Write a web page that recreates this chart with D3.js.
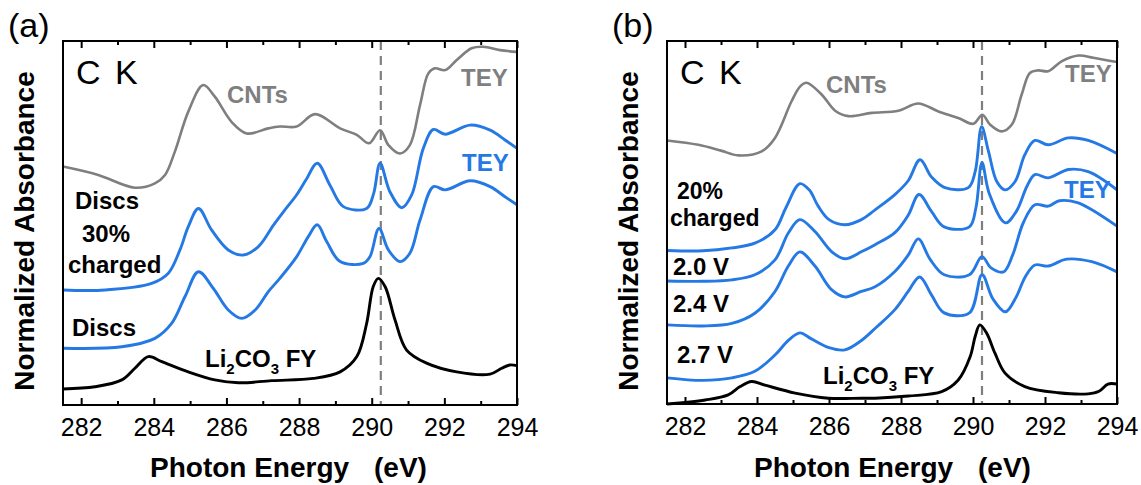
<!DOCTYPE html>
<html>
<head>
<meta charset="utf-8">
<script src="https://cdn.jsdelivr.net/npm/d3@7"></script>
<style>
  body { margin: 0; background: #fff; }
  svg text { font-family: "Liberation Sans", Arial, sans-serif; }
</style>
</head>
<body>
<div class="chart"></div>
<script>
// x axis
const xDomain = [281.5, 294];
const majorTicks = [282, 284, 286, 288, 290, 292, 294];
const minorTicks = [283, 285, 287, 289, 291, 293];
const refEnergy = 290.25; // carbonate peak, dashed line

// panel (a) spectra: [photon energy (eV), offset normalized absorbance]
const cntsA = [[281.5,6.55],[282.47,6.32],[283.48,5.97],[284.03,6.09],[284.31,6.32],[284.58,6.96],[284.95,8.06],[285.36,8.79],[285.68,8.47],[286.14,7.78],[286.56,7.46],[287.15,7.6],[287.47,7.65],[287.93,7.65],[288.44,7.99],[289.13,7.6],[289.59,7.42],[289.93,7.19],[290.23,7.55],[290.46,7.14],[290.78,6.91],[291.05,7.14],[291.33,8.24],[291.56,9.11],[291.74,9.25],[292.02,9.2],[292.34,9.48],[292.75,9.8],[293.07,9.84],[293.53,9.75],[294,9.7]];
const charged30A = [[281.5,3.16],[282.66,3.16],[283.94,3.34],[284.4,3.62],[284.72,4.26],[284.95,4.9],[285.23,5.4],[285.59,4.81],[286.05,4.26],[286.46,4.12],[286.88,4.35],[287.3,4.95],[287.6,5.35],[287.93,5.77],[288.2,6.2],[288.5,6.64],[288.85,6.04],[289.22,5.45],[289.86,5.4],[290.05,5.8],[290.23,6.64],[290.5,5.86],[290.83,5.42],[291.1,5.77],[291.42,7.05],[291.7,7.57],[292.02,7.44],[292.71,7.69],[293.26,7.55],[293.67,7.28],[294,7.05]];
const discsA = [[281.5,1.56],[283.12,1.6],[284.03,1.83],[284.49,2.24],[284.86,2.98],[285.23,3.66],[285.64,3.2],[286.05,2.61],[286.42,2.38],[286.79,2.61],[287.15,3.11],[287.47,3.48],[287.93,4.07],[288.25,4.62],[288.5,4.95],[288.76,4.49],[289.13,3.94],[289.77,3.89],[289.95,4.07],[290.2,4.85],[290.46,4.26],[290.78,3.94],[291.05,4.17],[291.33,5.08],[291.7,6.0],[292.02,5.91],[292.71,6.16],[293.26,6.0],[293.67,5.72],[294,5.5]];
const li2co3A = [[281.5,0.44],[282.38,0.5],[283.12,0.69],[283.48,1.01],[283.85,1.33],[284.22,1.19],[284.95,0.91],[285.68,0.69],[286.33,0.61],[287.25,0.67],[288.39,0.73],[289.13,0.91],[289.59,1.33],[289.86,2.24],[290.04,3.25],[290.18,3.48],[290.37,3.25],[290.64,2.34],[290.96,1.51],[291.51,1.15],[292.34,0.91],[293.26,0.85],[293.58,1.01],[293.8,1.1],[294,1.08]];

// panel (b) spectra
const cntsB = [[281.5,7.26],[282.37,7.14],[283.0,6.98],[283.48,6.85],[284.13,6.96],[284.5,7.33],[284.96,8.34],[285.2,8.75],[285.38,8.85],[285.8,8.52],[286.17,8.08],[286.54,7.93],[287.19,8.02],[287.93,8.08],[288.48,8.28],[289.04,8.06],[289.59,7.88],[290.01,7.72],[290.26,7.97],[290.47,7.7],[290.8,7.51],[291.08,7.7],[291.35,8.52],[291.58,9.12],[291.81,9.19],[292.09,9.17],[292.46,9.44],[292.93,9.6],[293.34,9.54],[294,9.42]];
const charged20B = [[281.5,4.23],[282.5,4.22],[283.3,4.3],[283.94,4.43],[284.5,4.8],[284.8,5.4],[285.19,6.07],[285.45,5.9],[285.7,5.45],[286.0,5.08],[286.44,4.94],[286.9,5.08],[287.28,5.35],[287.83,5.77],[288.2,6.15],[288.53,6.73],[288.85,6.25],[289.22,5.96],[289.87,5.96],[290.06,6.4],[290.24,7.64],[290.43,6.96],[290.66,6.13],[290.89,5.9],[291.17,6.13],[291.44,6.87],[291.72,7.26],[292.09,7.14],[292.65,7.33],[293.2,7.26],[294,6.9]];
const v20B = [[281.5,3.39],[282.5,3.38],[283.3,3.42],[283.94,3.56],[284.5,3.97],[284.87,4.71],[285.19,5.08],[285.61,4.75],[286.07,4.2],[286.44,4.0],[286.91,4.2],[287.28,4.39],[287.83,4.72],[288.2,5.2],[288.5,5.77],[288.85,5.3],[289.2,4.88],[289.9,4.88],[290.08,5.4],[290.25,6.65],[290.45,5.8],[290.9,4.99],[291.2,5.3],[291.5,6.0],[291.72,6.32],[292.09,6.23],[292.65,6.46],[293.2,6.4],[294,5.9]];
const v24B = [[281.5,2.18],[282.5,2.15],[283.3,2.22],[283.94,2.5],[284.5,3.1],[284.87,3.8],[285.19,4.19],[285.61,3.8],[286.07,3.15],[286.44,2.95],[286.9,3.1],[287.28,3.23],[287.83,3.65],[288.2,4.1],[288.48,4.55],[288.8,4.0],[289.2,3.56],[289.9,3.56],[290.25,4.06],[290.5,3.75],[290.85,3.64],[291.1,4.1],[291.4,5.0],[291.72,5.49],[292.09,5.45],[292.4,5.6],[292.9,5.55],[293.3,5.35],[294,4.9]];
const v27B = [[281.5,0.72],[282.5,0.65],[283.3,0.72],[283.94,0.9],[284.5,1.35],[284.87,1.75],[285.19,1.96],[285.5,1.8],[286.0,1.55],[286.44,1.49],[286.9,1.75],[287.3,2.1],[287.83,2.6],[288.2,3.1],[288.52,3.5],[288.85,3.0],[289.2,2.51],[289.9,2.51],[290.25,3.56],[290.55,2.9],[290.9,2.54],[291.2,2.95],[291.45,3.5],[291.72,3.83],[292.09,3.8],[292.6,3.99],[293.3,3.92],[294,3.64]];
const li2co3B = [[281.5,0.0],[282.56,0.11],[283.2,0.25],[283.53,0.48],[283.85,0.62],[284.22,0.52],[285.06,0.3],[285.98,0.16],[286.9,0.16],[287.28,0.16],[288.2,0.22],[289.13,0.34],[289.59,0.66],[289.92,1.3],[290.06,1.86],[290.19,2.18],[290.38,1.95],[290.61,1.4],[290.89,0.85],[291.44,0.48],[292.37,0.31],[293.2,0.28],[293.5,0.35],[293.75,0.55],[294,0.55]];

const grey = '#7f7f7f';
const blue = '#2479e4';

const svg = d3.select('.chart')
  .append('svg')
  .attr('width', 1141)
  .attr('height', 485);

function label(g, txt, x, y, color, size, weight) {
  return g.append('text')
    .attr('x', x)
    .attr('y', y)
    .attr('fill', color || '#000')
    .attr('font-size', size || 24)
    .attr('font-weight', weight || 'bold')
    .text(txt);
}

function li2co3Label(g, x, y) {
  const t = g.append('text')
    .attr('x', x).attr('y', y)
    .attr('font-size', 24).attr('font-weight', 'bold');
  t.append('tspan').text('Li');
  t.append('tspan').attr('dy', 7).attr('font-size', 15).text('2');
  t.append('tspan').attr('dy', -7).text('CO');
  t.append('tspan').attr('dy', 7).attr('font-size', 15).text('3');
  t.append('tspan').attr('dy', -7).text(' FY');
}

function drawPanel(p) {
  const x = d3.scaleLinear().domain(xDomain).range([p.left, p.left + p.width]);
  const y = d3.scaleLinear().domain([0, 10]).range([p.top + p.height, p.top]);
  const g = svg.append('g');

  // dashed reference line
  g.append('line')
    .attr('x1', x(refEnergy)).attr('x2', x(refEnergy))
    .attr('y1', y(10)).attr('y2', y(0))
    .attr('stroke', grey)
    .attr('stroke-width', 2.2)
    .attr('stroke-dasharray', '9,6');

  const line = d3.line()
    .x(d => x(d[0]))
    .y(d => y(d[1]))
    .curve(d3.curveCatmullRom.alpha(0.5));

  p.series.forEach(s => {
    g.append('path')
      .datum(s.data)
      .attr('fill', 'none')
      .attr('stroke', s.color)
      .attr('stroke-width', s.width)
      .attr('stroke-linejoin', 'round')
      .attr('d', line);
  });

  // axes: inward ticks top and bottom
  const bottom = g.append('g')
    .attr('transform', `translate(0, ${ p.top + p.height })`)
    .call(d3.axisBottom(x).tickValues(majorTicks).tickSize(-7).tickPadding(13).tickFormat(d3.format('d')));
  bottom.selectAll('text').attr('font-size', 25).attr('fill', '#000');
  g.append('g')
    .attr('transform', `translate(0, ${ p.top + p.height })`)
    .call(d3.axisBottom(x).tickValues(minorTicks).tickSize(-4).tickFormat(''));
  g.append('g')
    .attr('transform', `translate(0, ${ p.top })`)
    .call(d3.axisTop(x).tickValues(majorTicks).tickSize(-7).tickFormat(''));
  g.append('g')
    .attr('transform', `translate(0, ${ p.top })`)
    .call(d3.axisTop(x).tickValues(minorTicks).tickSize(-4).tickFormat(''));
  g.selectAll('.domain').remove();
  g.selectAll('.tick line').attr('stroke', '#000').attr('stroke-width', 2);

  g.append('rect')
    .attr('x', p.left).attr('y', p.top)
    .attr('width', p.width).attr('height', p.height)
    .attr('fill', 'none')
    .attr('stroke', '#000')
    .attr('stroke-width', 2);

  // titles
  g.append('text')
    .attr('transform', `translate(${ p.left - 29 }, ${ p.top + 190 }) rotate(-90)`)
    .attr('text-anchor', 'middle')
    .attr('font-size', 28)
    .attr('font-weight', 'bold')
    .text('Normalized Absorbance');
  label(g, 'Photon Energy', p.left + 87, 477, '#000', 28);
  label(g, '(eV)', p.left + 311, 477, '#000', 28);

  label(g, p.tag, p.left - 55, 37, '#000', 34, 'normal');
  label(g, 'C K', p.left + 13, 84, '#000', 34, 'normal').attr('word-spacing', 5);

  return g;
}

const ga = drawPanel({
  left: 63, top: 41, width: 454, height: 364, tag: '(a)',
  series: [
    { data: cntsA, color: grey, width: 2.6 },
    { data: charged30A, color: blue, width: 2.9 },
    { data: discsA, color: blue, width: 2.9 },
    { data: li2co3A, color: '#000', width: 2.9 }
  ]
});
label(ga, 'CNTs', 227, 103, grey);
label(ga, 'TEY', 461, 86, grey);
label(ga, 'TEY', 462, 171, blue);
label(ga, 'Discs', 75, 209);
label(ga, '30%', 82, 242);
label(ga, 'charged', 68, 273);
label(ga, 'Discs', 72, 336);
li2co3Label(ga, 205, 367);

const gb = drawPanel({
  left: 667, top: 41, width: 450, height: 363, tag: '(b)',
  series: [
    { data: cntsB, color: grey, width: 2.6 },
    { data: charged20B, color: blue, width: 2.9 },
    { data: v20B, color: blue, width: 2.9 },
    { data: v24B, color: blue, width: 2.9 },
    { data: v27B, color: blue, width: 2.9 },
    { data: li2co3B, color: '#000', width: 2.9 }
  ]
});
label(gb, 'CNTs', 826, 93, grey);
label(gb, 'TEY', 1065, 82, grey);
label(gb, 'TEY', 1064, 198, blue);
label(gb, '20%', 677, 199, '#000', 23);
label(gb, 'charged', 670, 226, '#000', 23);
label(gb, '2.0 V', 673, 275);
label(gb, '2.4 V', 673, 312);
label(gb, '2.7 V', 677, 363);
li2co3Label(gb, 823, 384);
</script>
</body>
</html>
